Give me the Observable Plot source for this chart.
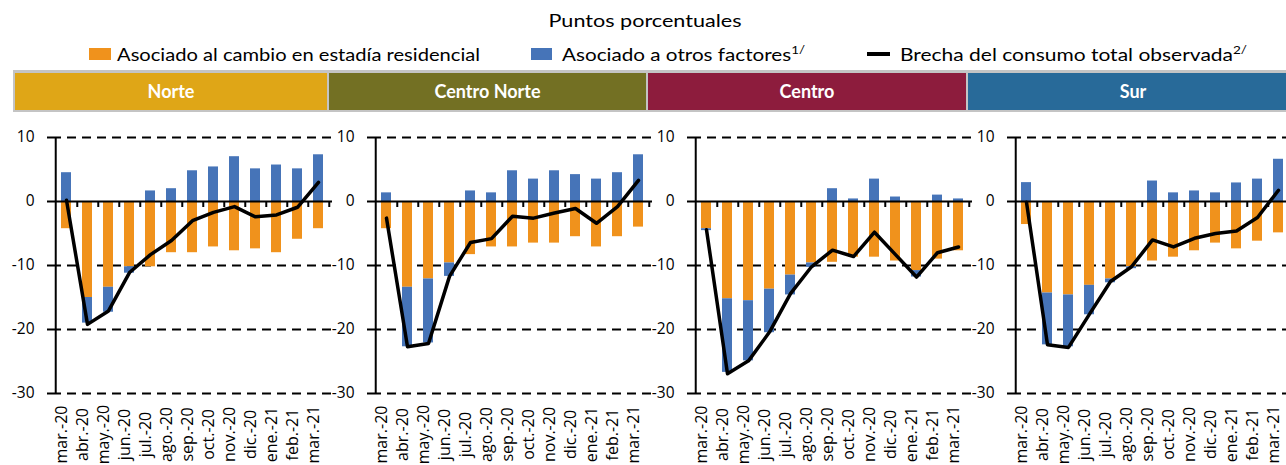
<!DOCTYPE html>
<html>
<head>
<meta charset="utf-8">
<script src="https://cdn.jsdelivr.net/npm/d3@7"></script>
<script src="https://cdn.jsdelivr.net/npm/@observablehq/plot@0.6"></script>
<style>
  body { margin: 0; width: 1286px; height: 465px; overflow: hidden; position: relative; background: #fff; font-family: Lato, "Open Sans", sans-serif; }
  #topsvg { position: absolute; left: 0; top: 0; }
  #strips { position: absolute; left: 13px; top: 70px; width: 1290px; height: 42px; background: #c4c4c4; box-sizing: border-box; padding: 2.5px 2px 2px 2px; display: flex; gap: 2px; }
  .strip { color: #fff; font-weight: bold; font-size: 18px; display: flex; align-items: center; justify-content: center; height: 100%; }
  .chart { position: absolute; top: 120px; width: 340px; }
  .chart svg { max-width: none !important; }
</style>
</head>
<body>
<svg id="topsvg" width="1286" height="70"></svg>
<div id="strips"></div>
<div id="charts"></div>
<script>
// ---- data ----
const subtitle = "Puntos porcentuales";
const seriesNames = ["Asociado al cambio en estadía residencial", "Asociado a otros factores"];
const seriesSup = ["", "1/"];
const lineName = "Brecha del consumo  total observada";
const lineSup = "2/";
const regions = ["Norte", "Centro Norte", "Centro", "Sur"];
const months = ["mar.-20","abr.-20","may.-20","jun.-20","jul.-20","ago.-20","sep.-20","oct.-20","nov.-20","dic.-20","ene.-21","feb.-21","mar.-21"];
const yTicks = [10, 0, -10, -20, -30];
const gridTicks = [10, -10, -20, -30];

const norteResidencial = [-4.25,-15.0,-13.4,-10.2,-10.2,-8.0,-8.0,-7.1,-7.7,-7.4,-8.0,-5.9,-4.25];
const norteOtros       = [4.5,-4.0,-3.9,-1.0,1.65,2.0,4.8,5.4,7.0,5.1,5.7,5.1,7.3];
const norteBrecha      = [0.2,-19.2,-17.1,-11.1,-8.3,-6.1,-3.0,-1.7,-0.8,-2.4,-2.1,-0.9,3.0];

const centroNorteResidencial = [-4.25,-13.4,-12.1,-9.6,-8.3,-7.1,-7.1,-6.5,-6.5,-5.5,-7.1,-5.5,-4.0];
const centroNorteOtros       = [1.35,-9.3,-10.0,-2.1,1.65,1.35,4.8,3.5,4.8,4.2,3.5,4.5,7.3];
const centroNorteBrecha      = [-2.6,-22.7,-22.2,-11.7,-6.4,-5.8,-2.3,-2.6,-1.8,-1.1,-3.4,-0.8,3.3];

const centroResidencial = [-4.25,-15.2,-15.5,-13.7,-11.5,-9.6,-9.5,-8.7,-8.7,-9.3,-10.8,-9.0,-7.7];
const centroOtros       = [-0.3,-11.5,-9.4,-6.8,-3.1,-0.7,2.0,0.4,3.5,0.7,-1.0,1.0,0.4];
const centroBrecha      = [-4.4,-26.9,-24.9,-20.4,-14.4,-10.2,-7.6,-8.6,-4.8,-8.3,-11.8,-8.0,-7.1];

const surResidencial = [-3.6,-14.3,-14.6,-13.1,-12.1,-10.2,-9.3,-8.7,-7.7,-6.5,-7.4,-6.2,-4.9];
const surOtros       = [2.95,-8.1,-8.1,-4.6,-0.6,-0.3,3.2,1.35,1.65,1.35,2.9,3.5,6.6];
const surBrecha      = [-0.1,-22.4,-22.8,-17.6,-12.5,-10.2,-6.0,-7.1,-5.75,-5.0,-4.6,-2.5,1.75];

// ---- styles ----
const ORANGE = "#F0921C", BLUE = "#4674B8";
const stripColors = ["#DFA617", "#737023", "#8D1C3D", "#286A99"];
const stripWidths = [312, 317, 318, 330];

// ---- top: subtitle + legend ----
const topSvg = d3.select("#topsvg");
topSvg.append("text").attr("x", 645).attr("y", 27).attr("text-anchor", "middle")
  .attr("font-size", 17).attr("textLength", 193).attr("lengthAdjust", "spacingAndGlyphs")
  .text(subtitle);

function legendText(x, y, len, label, sup) {
  const t = topSvg.append("text").attr("x", x).attr("y", y).attr("font-size", 17)
    .attr("textLength", len).attr("lengthAdjust", "spacingAndGlyphs");
  t.append("tspan").text(label);
  if (sup) t.append("tspan").attr("font-size", 11).attr("dy", -7).text(sup);
}
topSvg.append("rect").attr("x", 89).attr("y", 48).attr("width", 22).attr("height", 12).attr("fill", ORANGE);
legendText(117, 60.5, 363, seriesNames[0], seriesSup[0]);
topSvg.append("rect").attr("x", 531).attr("y", 48).attr("width", 21).attr("height", 12).attr("fill", BLUE);
legendText(562, 60.5, 243, seriesNames[1], seriesSup[1]);
topSvg.append("rect").attr("x", 867).attr("y", 52).attr("width", 23).attr("height", 4).attr("fill", "#000");
legendText(900, 60.5, 347, lineName, lineSup);

// ---- strips ----
const strips = d3.select("#strips");
regions.forEach((r, i) => {
  strips.append("div").attr("class", "strip")
    .style("background", stripColors[i]).style("flex", `0 0 ${stripWidths[i]}px`)
    .text(r);
});

// ---- panels ----
function panel(resid, otros, brecha) {
  const bars = [
    ...months.map((m, j) => ({month: m, serie: seriesNames[0], value: resid[j]})),
    ...months.map((m, j) => ({month: m, serie: seriesNames[1], value: otros[j]}))
  ];
  const line = months.map((m, j) => ({month: m, value: brecha[j]}));
  const W = 340, ML = 52, MR = 8;
  const step = (W - ML - MR) / months.length;
  return Plot.plot({
    width: W, height: 345,
    marginLeft: ML, marginRight: MR, marginTop: 17, marginBottom: 72,
    style: {background: "transparent", overflow: "visible", fontFamily: "'Open Sans', sans-serif", color: "#000", maxWidth: "none"},
    x: {domain: months, paddingInner: 0.535, paddingOuter: 0.2675, axis: null},
    y: {domain: [-30, 10], axis: null},
    color: {domain: seriesNames, range: [ORANGE, BLUE]},
    marks: [
      Plot.ruleY(gridTicks, {stroke: "#000", strokeWidth: 1.8, strokeDasharray: "9,6"}),
      Plot.barY(bars, {x: "month", y: "value", fill: "serie"}),
      Plot.ruleY([0], {stroke: "#000", strokeWidth: 2}),
      Plot.ruleX(months, {x: d => d, y1: 0, y2: 0, insetBottom: -6, dx: step / 2, stroke: "#000", strokeWidth: 2}),
      Plot.ruleX([months[0]], {x: d => d, dx: -step / 2, stroke: "#000", strokeWidth: 2}),
      Plot.axisY(yTicks, {label: null, tickSize: 5, tickPadding: 13, fontSize: 15.5, strokeWidth: 2, tickFormat: d => String(d)}),
      Plot.lineY(line, {x: "month", y: "value", stroke: "#000", strokeWidth: 3.5}),
      Plot.text(months, {x: d => d, text: d => d, frameAnchor: "bottom", rotate: -90, textAnchor: "middle", dy: 41, fontSize: 16, fill: "#000"})
    ]
  });
}

const panelData = [
  [norteResidencial, norteOtros, norteBrecha],
  [centroNorteResidencial, centroNorteOtros, centroNorteBrecha],
  [centroResidencial, centroOtros, centroBrecha],
  [surResidencial, surOtros, surBrecha]
];
const charts = document.getElementById("charts");
panelData.forEach((d, i) => {
  const div = document.createElement("div");
  div.className = "chart";
  div.style.left = (320 * i) + "px";
  div.appendChild(panel(...d));
  charts.appendChild(div);
});
</script>
</body>
</html>
